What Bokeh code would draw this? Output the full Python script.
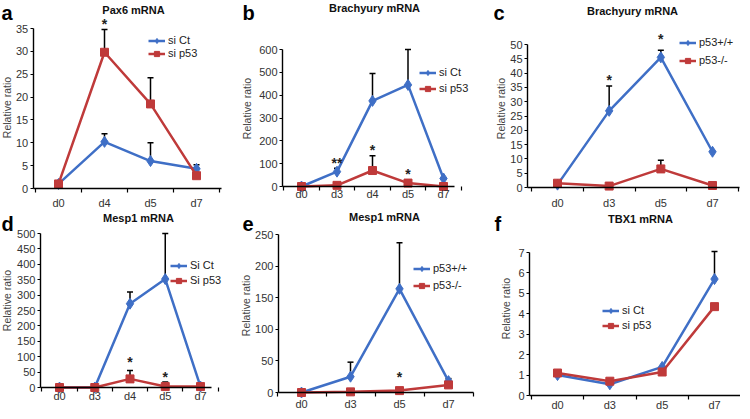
from bokeh.plotting import figure
from bokeh.models import (Range1d, FixedTicker, Label, LabelSet, Legend, LegendItem,
                          Whisker, TeeHead, ColumnDataSource)
from bokeh.layouts import row, column
from bokeh.core.properties import value
from bokeh.embed import file_html
from bokeh.resources import INLINE

# ---------------- data ----------------
# a  Pax6 mRNA
a_days = ["d0", "d4", "d5", "d7"]
a_names = ["si Ct", "si p53"]
a_s1 = [1.0, 10.2, 6.0, 4.3]
a_e1 = [0, 1.8, 4.0, 0.9]
a_s2 = [1.0, 29.8, 18.5, 2.8]
a_e2 = [0, 5.0, 5.7, 0]
a_yticks = [0, 5, 10, 15, 20, 25, 30, 35]
a_star_days = ["d4"]
a_star_y = [36.6]
a_star_txt = ["*"]

# b  Brachyury mRNA (siRNA)
b_days = ["d0", "d3", "d4", "d5", "d7"]
b_names = ["si Ct", "si p53"]
b_s1 = [0, 65, 375, 445, 35]
b_e1 = [0, 15, 120, 155, 0]
b_s2 = [0, 5, 70, 15, 0]
b_e2 = [0, 0, 65, 0, 0]
b_yticks = [0, 100, 200, 300, 400, 500, 600]
b_star_days = ["d3", "d4", "d5"]
b_star_y = [118, 171, 70]
b_star_txt = ["**", "*", "*"]

# c  Brachyury mRNA (p53 KO)
c_days = ["d0", "d3", "d5", "d7"]
c_names = ["p53+/+", "p53-/-"]
c_s1 = [1.0, 26.8, 45.5, 12.5]
c_e1 = [0, 8.7, 2.5, 0]
c_s2 = [1.5, 0.5, 6.5, 0.7]
c_e2 = [0, 0, 3.0, 0]
c_yticks = [0, 5, 10, 15, 20, 25, 30, 35, 40, 45, 50]
c_star_days = ["d3", "d5"]
c_star_y = [38.8, 52.8]
c_star_txt = ["*", "*"]

# d  Mesp1 mRNA (siRNA)
d_days = ["d0", "d3", "d4", "d5", "d7"]
d_names = ["Si Ct", "Si p53"]
d_s1 = [0, 0, 272, 352, 3]
d_e1 = [0, 0, 38, 148, 0]
d_s2 = [0, 0, 28, 3, 3]
d_e2 = [0, 0, 27, 15, 0]
d_yticks = [0, 50, 100, 150, 200, 250, 300, 350, 400, 450, 500]
d_star_days = ["d4", "d5"]
d_star_y = [91, 45]
d_star_txt = ["*", "*"]

# e  Mesp1 mRNA (p53 KO)
e_days = ["d0", "d3", "d5", "d7"]
e_names = ["p53+/+", "p53-/-"]
e_s1 = [0, 25, 164, 18]
e_e1 = [0, 23, 73, 4]
e_s2 = [0, 1, 3, 12]
e_e2 = [0, 0, 0, 0]
e_yticks = [0, 50, 100, 150, 200, 250]
e_star_days = ["d5"]
e_star_y = [30]
e_star_txt = ["*"]

# f  TBX1 mRNA
f_days = ["d0", "d3", "d5", "d7"]
f_names = ["si Ct", "si p53"]
f_s1 = [1.0, 0.55, 1.4, 5.7]
f_e1 = [0, 0, 0, 1.35]
f_s2 = [1.1, 0.7, 1.15, 4.35]
f_e2 = [0, 0, 0, 0]
f_yticks = [0, 1, 2, 3, 4, 5, 6, 7]
f_star_days = []
f_star_y = []
f_star_txt = []

Y_LABEL = "Relative ratio"

# ---------------- style ----------------
BLUE = "#3F6FC6"
RED = "#BF3A3A"
FONT = "Liberation Sans"
TXT = "#333333"


def add_err(p, xs, vals, errs):
    bx = [x for x, e in zip(xs, errs) if e > 0]
    if not bx:
        return
    lo = [v for v, e in zip(vals, errs) if e > 0]
    up = [v + e for v, e in zip(vals, errs) if e > 0]
    src = ColumnDataSource(dict(x=bx, lo=lo, up=up))
    w = Whisker(base="x", lower="lo", upper="up", source=src, dimension="height",
                line_color="black", line_width=1.5,
                upper_head=TeeHead(size=6, line_color="black", line_width=1.5),
                lower_head=None)
    p.add_layout(w)


def make_panel(days, names, s1, e1, s2, e2, yticks, star_days, star_y, star_txt,
               title, letter, lay):
    W, H = lay["size"]
    cx0, cxN, xlo, xhi = lay["x"]
    yT, yB = lay["y"]
    xs = list(range(len(days)))
    ymax = yticks[-1]
    # pixel scales -> ranges so that the frame spans the whole figure
    sx = (cxN - cx0) / (len(days) - 1)
    sy = (yB - yT) / ymax
    p = figure(width=W, height=H,
               x_range=Range1d(-cx0 / sx, (W - cx0) / sx),
               y_range=Range1d(-(H - yB) / sy, yB / sy),
               output_backend="svg", toolbar_location=None, title=None,
               min_border=0, min_border_left=0, min_border_right=0,
               min_border_top=0, min_border_bottom=0)
    p.frame_align = False
    p.outline_line_color = None
    p.grid.visible = False
    p.background_fill_color = "white"
    p.border_fill_color = "white"

    # x axis
    xa = p.xaxis[0]
    xa.fixed_location = 0
    xa.bounds = (xlo, xhi)
    xa.ticker = FixedTicker(ticks=xs, minor_ticks=[i - 0.5 for i in range(len(days) + 1)])
    xa.major_label_overrides = {i: d for i, d in enumerate(days)}
    xa.major_tick_line_color = None
    xa.major_tick_out = 0
    xa.major_tick_in = 0
    xa.minor_tick_out = 4
    xa.minor_tick_in = 0
    xa.minor_tick_line_color = "black"
    xa.minor_tick_line_width = 1.2
    xa.axis_line_color = "black"
    xa.axis_line_width = 1.4
    xa.major_label_standoff = lay["xstand"]
    xa.major_label_text_font = FONT
    xa.major_label_text_font_size = "11px"
    xa.major_label_text_color = TXT

    # y axis
    ya = p.yaxis[0]
    ya.fixed_location = xlo
    ya.bounds = (0, ymax)
    ya.ticker = FixedTicker(ticks=yticks)
    ya.axis_line_color = "black"
    ya.axis_line_width = 1.4
    ya.major_tick_out = 3
    ya.major_tick_in = 0
    ya.major_tick_line_color = "black"
    ya.major_tick_line_width = 1.2
    ya.minor_tick_line_color = None
    ya.major_label_standoff = 2
    ya.major_label_text_font = FONT
    ya.major_label_text_font_size = "11px"
    ya.major_label_text_color = TXT

    # y axis title (rotated), placed like the original
    yx, yy = lay["ylab"]
    p.add_layout(Label(x=yx, y=H - yy, x_units="screen", y_units="screen",
                       text=Y_LABEL, angle=90, angle_units="deg",
                       text_align="center", text_baseline="middle",
                       text_font=FONT, text_font_size="10.5px",
                       text_color="#444444"))

    # series
    l1 = p.line(xs, s1, line_color=BLUE, line_width=2.5)
    m1 = p.scatter(xs, s1, marker="diamond", size=11, fill_color=BLUE, line_color=BLUE)
    l2 = p.line(xs, s2, line_color=RED, line_width=2.5)
    m2 = p.scatter(xs, s2, marker="square", size=8, fill_color=RED, line_color=RED)
    add_err(p, xs, s1, e1)
    add_err(p, xs, s2, e2)

    # significance stars
    if star_days:
        src = ColumnDataSource(dict(x=[days.index(d) for d in star_days], y=star_y, t=star_txt))
        p.add_layout(LabelSet(x="x", y="y", text="t", source=src, text_align="center",
                              text_baseline="middle", text_font=value(FONT),
                              text_font_size="14px", text_font_style="bold",
                              text_color="#222222", y_offset=-3))

    # legend
    gx, c1, c2 = lay["legend"]
    ih = 13
    sp = int(round((c2 - c1) - ih))
    top = c1 - ih / 2
    bottom = top + 2 * ih + sp
    leg = Legend(items=[LegendItem(label=names[0], renderers=[l1, m1]),
                        LegendItem(label=names[1], renderers=[l2, m2])],
                 location=(gx, H - bottom), orientation="vertical",
                 padding=0, margin=0, spacing=sp, label_height=ih, glyph_height=ih,
                 glyph_width=17, label_standoff=3,
                 label_text_font=FONT, label_text_font_size="11px",
                 label_text_color="#222222",
                 background_fill_alpha=0, border_line_alpha=0)
    p.add_layout(leg)

    # title
    tx, ty = lay["title"]
    p.add_layout(Label(x=tx, y=H - ty, x_units="screen", y_units="screen",
                       text=title, text_align="center", text_baseline="middle",
                       text_font=FONT, text_font_size="11px", text_font_style="bold",
                       text_color="#111111"))
    # panel letter
    lx, ly = lay["letter"]
    p.add_layout(Label(x=lx, y=H - ly, x_units="screen", y_units="screen",
                       text=letter, text_align="left", text_baseline="middle",
                       text_font=FONT, text_font_size="20px", text_font_style="bold",
                       text_color="#000000"))
    return p


H1, H2 = 211, 199
W1, W2, W3 = 239, 254, 247
lay_a = dict(size=(W1, H1), x=(58, 196, -0.55, 3.55), y=(28, 188), xstand=4,
             legend=(148, 43, 53), title=(133, 9), letter=(1, 12), ylab=(6, 107))
lay_b = dict(size=(W2, H1), x=(62, 204, -0.535, 4.3), y=(49, 186), xstand=-3,
             legend=(180, 72, 88), title=(135, 7), letter=(3, 12), ylab=(7, 108))
lay_c = dict(size=(W3, H1), x=(64, 219, -0.58, 3.52), y=(44, 187), xstand=5,
             legend=(186, 42, 60), title=(139, 10), letter=(0, 12), ylab=(7, 108))
lay_d = dict(size=(W1, H2), x=(59, 200, -0.54, 4.31), y=(22, 176), xstand=-2,
             legend=(170, 54, 69), title=(138, 6), letter=(1, 12), ylab=(6, 89))
lay_e = dict(size=(W2, H2), x=(62, 209, -0.47, 3.51), y=(23, 181), xstand=1,
             legend=(174, 57, 74), title=(145, 5), letter=(3, 12), ylab=(6, 94))
lay_f = dict(size=(W3, H2), x=(64, 221, -0.535, 3.5), y=(41, 184), xstand=-1,
             legend=(109, 99, 114), title=(147, 7), letter=(1, 12), ylab=(12, 97))

pa = make_panel(a_days, a_names, a_s1, a_e1, a_s2, a_e2, a_yticks, a_star_days, a_star_y, a_star_txt, "Pax6 mRNA", "a", lay_a)
pb = make_panel(b_days, b_names, b_s1, b_e1, b_s2, b_e2, b_yticks, b_star_days, b_star_y, b_star_txt, "Brachyury mRNA", "b", lay_b)
pc = make_panel(c_days, c_names, c_s1, c_e1, c_s2, c_e2, c_yticks, c_star_days, c_star_y, c_star_txt, "Brachyury mRNA", "c", lay_c)
pd = make_panel(d_days, d_names, d_s1, d_e1, d_s2, d_e2, d_yticks, d_star_days, d_star_y, d_star_txt, "Mesp1 mRNA", "d", lay_d)
pe = make_panel(e_days, e_names, e_s1, e_e1, e_s2, e_e2, e_yticks, e_star_days, e_star_y, e_star_txt, "Mesp1 mRNA", "e", lay_e)
pf = make_panel(f_days, f_names, f_s1, f_e1, f_s2, f_e2, f_yticks, f_star_days, f_star_y, f_star_txt, "TBX1 mRNA", "f", lay_f)

layout = column(row(pa, pb, pc, spacing=0), row(pd, pe, pf, spacing=0), spacing=0)

with open("out.html", "w") as fh:
    fh.write(file_html(layout, INLINE))
